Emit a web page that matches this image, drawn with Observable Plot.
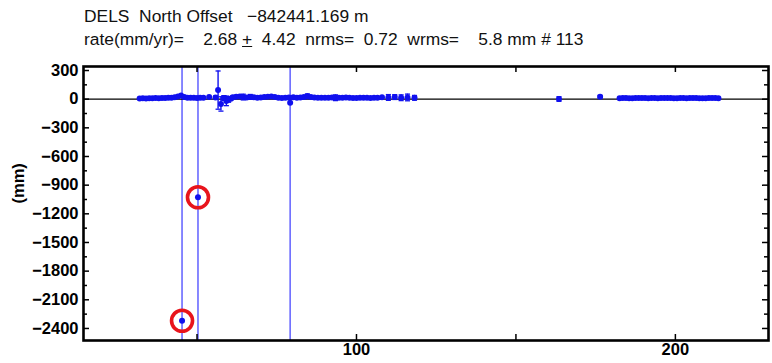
<!DOCTYPE html>
<html>
<head>
<meta charset="utf-8">
<script src="https://cdn.jsdelivr.net/npm/d3@7"></script>
<script src="https://cdn.jsdelivr.net/npm/@observablehq/plot@0.6"></script>
<style>
  html, body { margin: 0; padding: 0; background: #fff; }
  body { width: 772px; height: 363px; overflow: hidden; font-family: "Liberation Sans", Arial, sans-serif; }
  #title { position: relative; height: 52px; font-size: 17.4px; color: #111; }
  #title div { position: absolute; left: 84px; white-space: pre; line-height: 20px; }
  #chart svg text { font-family: "Liberation Sans", Arial, sans-serif; }
</style>
</head>
<body>
<div id="title">
  <div style="top:6px">DELS  North Offset   −842441.169 m</div>
  <div style="top:29px">rate(mm/yr)=    2.68 <u>+</u>  4.42  nrms=  0.72  wrms=    5.8 mm # 113</div>
</div>
<div id="chart"></div>
<script>
// ---- data ----
const days = [
  32, 33, 34, 35, 36, 37, 38, 39, 40, 41, 42, 43, 44, 45, 46, 47, 48, 49, 50, 51, 52, 53.8,
  45.3, 50.3, 79.2,
  55.8, 56.6, 57.5, 58.4, 59.2, 59.9, 60.6,
  61.2, 62.3, 63.4, 64.5, 65.6, 66.7, 67.8, 68.9, 70, 71.1, 72.2, 73.3, 74.4, 75.5, 76.6, 77.7,
  78.8, 80.2, 81.3, 82.4, 83.5, 84.6, 85.7, 86.8, 87.9, 89, 90.1, 91.2, 92.3, 93.4, 94.5, 95.6,
  96.7, 97.8, 98.9, 100, 101.1, 102.2, 103.3, 104.4, 105.5, 106.6, 108, 110, 112, 114, 116, 118.2,
  163.5, 176.4,
  182.5, 183.5, 184.5, 185.5, 186.5, 187.5, 188.5, 189.5, 190.5, 191.5, 192.5, 193.5, 194.5, 195.5, 196.5, 197.5,
  198.5, 199.5, 200.5, 201.5, 202.5, 203.5, 204.5, 205.5, 206.5, 207.5, 208.5, 209.5, 210.5, 211.5, 212.5, 213.5
];
const north = [
  8, 9, 8, 10, 9, 11, 10, 12, 13, 14, 16, 20, 28, 38, 22, 16, 14, 15, 13, 14, 16, 22,
  -2320, -1027, -38,
  18, 95, -50, 12, -18, -2, 5,
  20, 25, 28, 22, 18, 24, 20, 15, 18, 22, 25, 28, 24, 15, 12, 14,
  18, 20, 15, 18, 24, 30, 22, 18, 16, 15, 14, 16, 18, 15, 14, 16,
  18, 15, 13, 12, 14, 16, 14, 12, 15, 14, 20, 18, 22, 15, 18, 14,
  2, 25,
  10, 11, 12, 10, 9, 11, 12, 13, 11, 10, 12, 11, 10, 12, 13, 12,
  11, 10, 9, 11, 12, 10, 11, 13, 12, 10, 9, 10, 11, 12, 11, 10
];
const sigma = [
  8, 8, 8, 8, 8, 8, 8, 8, 8, 8, 8, 8, 8, 8, 8, 8, 8, 8, 8, 8, 8, 12,
  9000, 9000, 9000,
  14, 200, 75, 25, 50, 30, 18,
  14, 15, 12, 30, 10, 25, 10, 10, 10, 10, 10, 10, 10, 10, 10, 10,
  10, 10, 10, 14, 10, 25, 10, 10, 10, 10, 10, 10, 10, 30, 10, 10,
  10, 10, 10, 10, 10, 10, 10, 10, 10, 10, 10, 30, 25, 30, 35, 25,
  24, 14,
  8, 8, 8, 8, 8, 8, 8, 8, 8, 8, 8, 8, 8, 8, 8, 8,
  8, 8, 8, 8, 8, 8, 8, 8, 8, 8, 8, 8, 8, 8, 8, 8
];
const circledDays = [45.3, 50.3];
const yLabelTicks = [300, 0, -300, -600, -900, -1200, -1500, -1800, -2100, -2400];
const yMinorTicks = [150, -150, -450, -750, -1050, -1350, -1650, -1950, -2250];
const xMajorTicks = [50, 100, 150, 200];
const xLabelTicks = [100, 200];
const zeroLine = [0];

const rows = days.map((d, i) => ({day: d, n: north[i], s: sigma[i]}));
const normal = rows.filter(r => r.s < 1000);
const huge = rows.filter(r => r.s >= 1000);
const circled = rows.filter(r => circledDays.includes(r.day));
const capped = normal.filter(d => d.s > 12);

const W = 772, H = 311;
const mL = 83, mR = 4, mT = 14, mB = 23;
const pw = W - mL - mR, ph = H - mT - mB;
const blue = "#1010ee";
const fmt = d3.format("d");

const chart = Plot.plot({
  width: W, height: H,
  marginLeft: mL, marginRight: mR, marginTop: mT, marginBottom: mB,
  x: {domain: [14.4, 229.2]},
  y: {domain: [-2526, 342]},
  style: {background: "white", color: "black"},
  marks: [
    Plot.ruleX(huge, {x: "day", y1: d => d.n - d.s, y2: d => d.n + d.s, stroke: "#6a6aff", strokeWidth: 1.6, clip: true}),
    Plot.ruleY(zeroLine, {stroke: "black", strokeWidth: 1.2}),
    Plot.ruleX(normal, {x: "day", y1: d => d.n - d.s, y2: d => d.n + d.s, stroke: blue, strokeWidth: 1.4, clip: true}),
    Plot.link(capped, {x1: d => d.day - 0.8, x2: d => d.day + 0.8, y1: d => d.n + d.s, y2: d => d.n + d.s, stroke: blue, strokeWidth: 1.3, clip: true}),
    Plot.link(capped, {x1: d => d.day - 0.8, x2: d => d.day + 0.8, y1: d => d.n - d.s, y2: d => d.n - d.s, stroke: blue, strokeWidth: 1.3, clip: true}),
    Plot.dot(rows, {x: "day", y: "n", r: 3, fill: blue, stroke: "none"}),
    Plot.dot(circled, {x: "day", y: "n", r: 10.5, fill: "none", stroke: "#e8141c", strokeWidth: 3.6}),
    // inward ticks
    Plot.tickY(yLabelTicks, {y: d => d, insetRight: pw - 6, stroke: "black", strokeWidth: 1.5}),
    Plot.tickY(yLabelTicks, {y: d => d, insetLeft: pw - 6, stroke: "black", strokeWidth: 1.5}),
    Plot.tickY(yMinorTicks, {y: d => d, insetRight: pw - 4, stroke: "black", strokeWidth: 1.5}),
    Plot.tickY(yMinorTicks, {y: d => d, insetLeft: pw - 4, stroke: "black", strokeWidth: 1.5}),
    Plot.tickX(xMajorTicks, {x: d => d, insetBottom: ph - 6, stroke: "black", strokeWidth: 1.5}),
    Plot.tickX(xMajorTicks, {x: d => d, insetTop: ph - 6, stroke: "black", strokeWidth: 1.5}),
    Plot.axisY(yLabelTicks, {anchor: "left", tickSize: 0, tickPadding: 5, fontSize: 16.5, fontWeight: "bold", tickFormat: fmt, label: null}),
    Plot.axisX(xLabelTicks, {anchor: "bottom", tickSize: 0, tickPadding: 3, fontSize: 16.5, fontWeight: "bold", tickFormat: fmt, label: null}),
    Plot.text(["(mm)"], {text: d => d, frameAnchor: "left", dx: -65, rotate: -90, fontSize: 16.5, fontWeight: "bold", fill: "black"}),
    Plot.frame({stroke: "black", strokeWidth: 2.6})
  ]
});
document.getElementById("chart").appendChild(chart);
</script>
</body>
</html>
